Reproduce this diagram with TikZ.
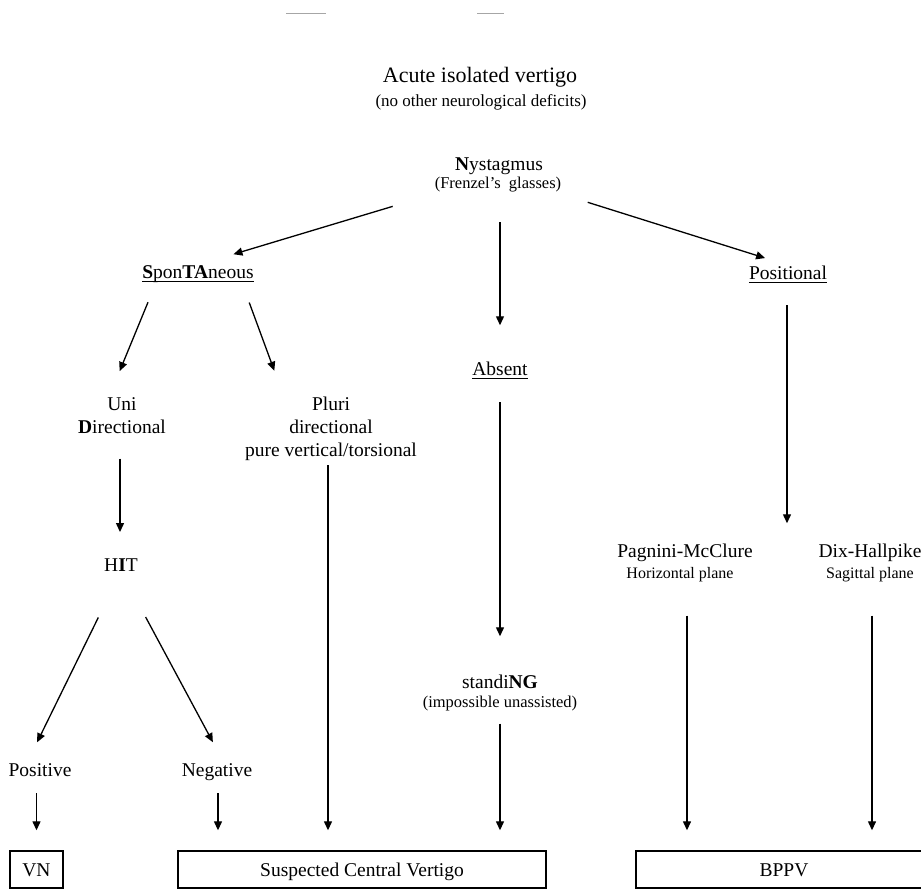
\documentclass[tikz,border=0pt]{standalone}
\usepackage{fontspec}
\setmainfont{Liberation Serif}
\usetikzlibrary{arrows.meta,calc}
\tikzset{
  lbl/.style={inner sep=0pt,anchor=base,font=\fontsize{19.5}{23}\selectfont},
  sublbl/.style={inner sep=0pt,anchor=base,font=\fontsize{16.5}{19}\selectfont},
  blocklbl/.style={inner sep=0pt,anchor=north,align=center,font=\fontsize{19.5}{23}\selectfont},
  endbox/.style={draw,line width=1.4pt,minimum height=37pt,inner sep=0pt,text height=13.5pt,text depth=0pt,font=\fontsize{19.5}{23}\selectfont},
  arr/.style={-{Triangle[length=9pt,width=8pt]},line width=1.3pt},
  uline/.style={line width=1pt},
}
\begin{document}
\begin{tikzpicture}[x=1pt,y=-1pt]
\useasboundingbox (0,0) rectangle (921,889);
\draw [line width=1pt,black!35] (286,13) -- (326,13);
\draw [line width=1pt,black!35] (477,13) -- (504,13);
\node[lbl,font=\fontsize{22}{26}\selectfont] (title) at (480,82) {Acute isolated vertigo};
\node[sublbl,font=\fontsize{17}{20}\selectfont] (titlesub) at (481,106) {(no other neurological deficits)};
\node[lbl] (nyst) at (499,170) {\textbf{N}ystagmus};
\node[sublbl] (frenzel) at (498,188) {(Frenzel’s\ \ glasses)};
\node[lbl] (spont) at (198,278) {\textbf{S}pon\textbf{TA}neous};
\node[lbl] (positional) at (788,279) {Positional};
\node[lbl] (absent) at (500,375) {Absent};
\node[blocklbl] (uni) at (122,397) {Uni\\\textbf{D}irectional};
\node[blocklbl] (pluri) at (331,397) {Pluri\\directional\\pure vertical/torsional};
\node[lbl] (hit) at (121,571) {H\textbf{I}T};
\node[lbl] (positive) at (40,776) {Positive};
\node[lbl] (negative) at (217,776) {Negative};
\node[lbl] (standing) at (500,688) {standi\textbf{NG}};
\node[sublbl] (unassist) at (500,707) {(impossible unassisted)};
\node[lbl] (pagnini) at (685,557) {Pagnini-McClure};
\node[sublbl,font=\fontsize{16}{19}\selectfont] (horiz) at (680,578) {Horizontal plane};
\node[lbl] (dix) at (870,557) {Dix-Hallpike};
\node[sublbl,font=\fontsize{16}{19}\selectfont] (sagittal) at (870,578) {Sagittal plane};
\node[endbox,minimum width=53pt] (vn) at (36.5,869.5) {VN};
\node[endbox,minimum width=368pt] (central) at (362,869.5) {Suspected Central Vertigo};
\node[endbox,minimum width=296pt] (bppv) at (784,869.5) {BPPV};
\draw [uline] ([yshift=-3pt]spont.base west) -- ([yshift=-3pt]spont.base east);
\draw [uline] ([yshift=-3.5pt]positional.base west) -- ([yshift=-3.5pt]positional.base east);
\draw [uline] ([yshift=-3.5pt]absent.base west) -- ([yshift=-3.5pt]absent.base east);
\draw [arr,shorten <=111pt,shorten >=37pt] (nyst.south) -- (spont.north);
\draw [arr,shorten <=93pt,shorten >=24pt] (nyst.south) -- (positional.north);
\draw [arr,shorten <=48pt,shorten >=36pt] (nyst.south -| absent.north) -- (absent.north);
\draw [arr,shorten <=21.5pt,shorten >=28pt] ([xshift=14pt]spont.south west) -- ([xshift=-13pt]uni.north);
\draw [arr,shorten <=21.5pt,shorten >=28pt] ([xshift=-12pt]spont.south east) -- ([xshift=-47pt]pluri.north);
\draw [arr,shorten <=25pt,shorten >=26pt] ([xshift=-2pt]uni.south) -- ([xshift=-2pt]uni.south |- hit.north);
\draw [arr,shorten <=51.5pt,shorten >=23pt] (hit.south) -- ([xshift=-13pt]positive.north);
\draw [arr,shorten <=52pt,shorten >=23.5pt] (hit.south) -- ([xshift=7pt]negative.north);
\draw [arr,shorten <=17pt,shorten >=20pt] (positive.south -| vn.north) -- (vn.north);
\draw [arr,shorten <=13pt,shorten >=20pt] ([xshift=1pt]negative.south) -- ([xshift=1pt]negative.south |- central.north);
\draw [arr,shorten <=4pt,shorten >=20pt] ([xshift=-3pt]pluri.south) -- ([xshift=-3pt]pluri.south |- central.north);
\draw [arr,shorten <=23pt,shorten >=38pt] ([yshift=-4pt]absent.base) -- (absent.base |- standing.north);
\draw [arr,shorten <=13pt,shorten >=20pt] (unassist.south) -- (unassist.south |- central.north);
\draw [arr,shorten <=22pt,shorten >=20pt] ([xshift=-1pt,yshift=-4pt]positional.base) -- ([xshift=-1pt]positional.base |- pagnini.north);
\draw [arr,shorten <=34pt,shorten >=20pt] ([xshift=7pt]horiz.south) -- ([xshift=7pt]horiz.south |- bppv.north);
\draw [arr,shorten <=34pt,shorten >=20pt] ([xshift=2pt]sagittal.south) -- ([xshift=2pt]sagittal.south |- bppv.north);
\end{tikzpicture}
\end{document}
